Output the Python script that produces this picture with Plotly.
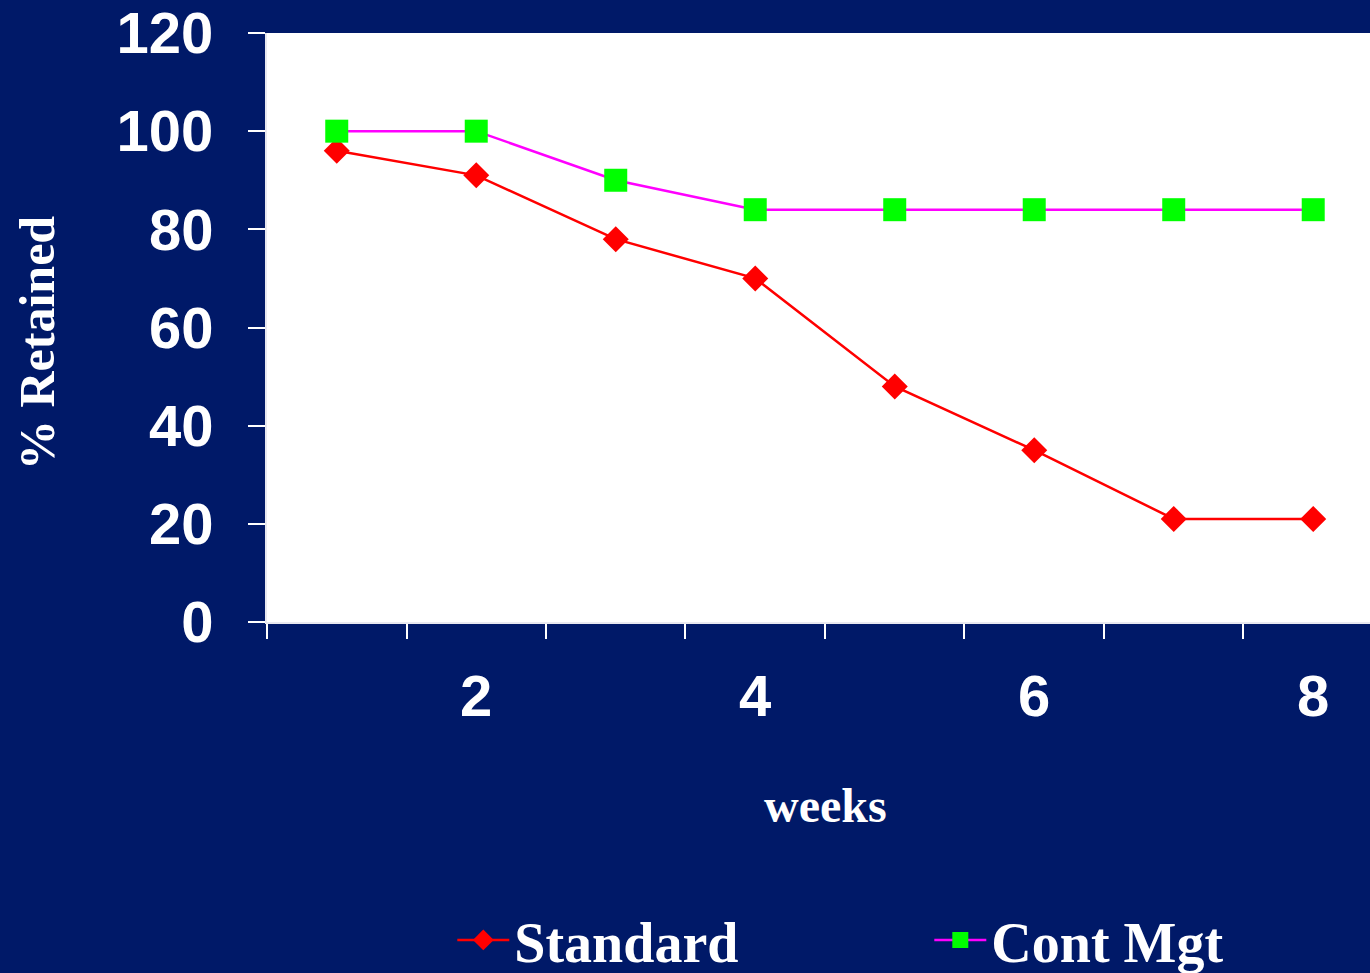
import plotly.graph_objects as go

weeks = [1, 2, 3, 4, 5, 6, 7, 8]
standard = [96, 91, 78, 70, 48, 35, 21, 21]
cont_mgt = [100, 100, 90, 84, 84, 84, 84, 84]
x_tick_vals = [2, 4, 6, 8]
y_tick_vals = [0, 20, 40, 60, 80, 100, 120]

NAVY = "#001968"
SANS = "Liberation Sans, Arial, sans-serif"
SERIF = "Liberation Serif, Times New Roman, serif"

fig = go.Figure()
fig.add_trace(go.Scatter(
    x=weeks, y=standard, name="Standard", mode="lines+markers",
    line=dict(color="#FF0000", width=2.5),
    marker=dict(symbol="diamond", size=20, color="#FF0000"),
))
fig.add_trace(go.Scatter(
    x=weeks, y=cont_mgt, name="Cont Mgt", mode="lines+markers",
    line=dict(color="#FF00FF", width=2.5),
    marker=dict(symbol="square", size=23, color="#00FF00"),
))

tick_font = dict(family=SANS, size=58, color="white", weight="bold")

fig.update_layout(
    width=1370, height=973,
    margin=dict(l=267, r=0, t=33, b=351, autoexpand=False),
    paper_bgcolor=NAVY, plot_bgcolor="white",
    showlegend=True,
    legend=dict(
        orientation="h", x=0.168, xanchor="left",
        y=(622 - 940) / 589, yanchor="middle",
        font=dict(family=SERIF, size=56, color="white", weight="bold"),
        bgcolor="rgba(0,0,0,0)", entrywidth=410, itemwidth=52,
        tracegroupgap=0,
    ),
    xaxis=dict(
        range=[0.5, 8.407], showgrid=False, zeroline=False,
        showline=True, linecolor="#E8E8F0", linewidth=2,
        tickmode="array", tickvals=x_tick_vals,
        ticks="outside", ticklen=22, tickcolor="rgba(0,0,0,0)",
        tickfont=tick_font,
        minor=dict(tick0=0.5, dtick=1, ticks="outside", ticklen=15,
                   tickcolor="white", tickwidth=2, showgrid=False),
    ),
    yaxis=dict(
        range=[0, 120], showgrid=False, zeroline=False,
        showline=True, linecolor="#E8E8F0", linewidth=2,
        tickmode="array", tickvals=y_tick_vals,
        ticks="outside", ticklen=17, tickcolor="white", tickwidth=2,
        tickfont=tick_font, ticklabelstandoff=23,
    ),
    annotations=[
        dict(text="weeks", xref="paper", yref="paper",
             x=(825 - 267) / 1103, y=(622 - 805) / 589,
             xanchor="center", yanchor="middle", showarrow=False,
             font=dict(family=SERIF, size=48, color="white", weight="bold")),
        dict(text="% Retained", xref="paper", yref="paper",
             x=(37 - 267) / 1103, y=(622 - 343) / 589, textangle=-90,
             xanchor="center", yanchor="middle", showarrow=False,
             font=dict(family=SERIF, size=50, color="white", weight="bold")),
    ],
)

fig.write_html("out.html")
